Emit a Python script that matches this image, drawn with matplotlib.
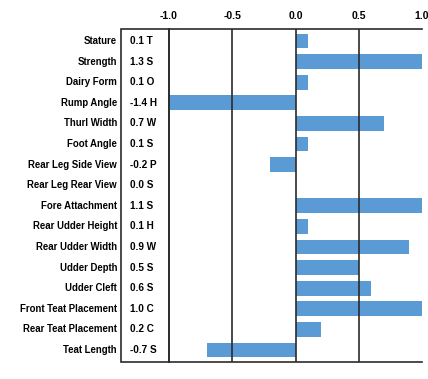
import matplotlib
matplotlib.use("Agg")
import matplotlib.pyplot as plt
import matplotlib.transforms as mtransforms
from matplotlib.patches import Rectangle

# ---------------------------------------------------------------------------
# Data
# ---------------------------------------------------------------------------
traits = [
    "Stature", "Strength", "Dairy Form", "Rump Angle", "Thurl Width",
    "Foot Angle", "Rear Leg Side View", "Rear Leg Rear View", "Fore Attachment",
    "Rear Udder Height", "Rear Udder Width", "Udder Depth", "Udder Cleft",
    "Front Teat Placement", "Rear Teat Placement", "Teat Length",
]
values = [0.1, 1.3, 0.1, -1.4, 0.7, 0.1, -0.2, 0.0, 1.1, 0.1, 0.9, 0.5, 0.6, 1.0, 0.2, -0.7]
codes = ["T", "S", "O", "H", "W", "S", "P", "S", "S", "H", "W", "S", "S", "C", "C", "S"]
x_ticks = [-1.0, -0.5, 0.0, 0.5, 1.0]

W, H = 428, 379
BAR = "#5b9bd5"
LINE = "#2b2b2b"
FONT = ["Liberation Sans Narrow", "Liberation Sans", "DejaVu Sans"]

fig = plt.figure(figsize=(W / 100, H / 100), dpi=100)
fig.patch.set_facecolor("white")

# plot area in pixel coords -> figure fractions
left, right, top, bottom = 169, 422, 29, 362
ax = fig.add_axes([left / W, 1 - bottom / H, (right - left) / W, (bottom - top) / H])

pos = list(range(len(traits)))
ax.barh(pos, values, height=0.72, color=BAR, zorder=2)
ax.set_xlim(-1.0, 1.0)
ax.set_ylim(len(traits) - 0.42, -0.58)

for x in x_ticks[1:-1]:
    ax.axvline(x, color=LINE, lw=1.2, zorder=3)

ax.xaxis.tick_top()
ax.set_xticks(x_ticks)
ax.set_xticklabels([f"{t:.1f}" for t in x_ticks], fontsize=7.5,
                   fontweight="bold", family=FONT)
ax.tick_params(axis="x", length=0, pad=6)
ax.set_yticks([])

for side in ("left", "top", "bottom"):
    ax.spines[side].set_color(LINE)
    ax.spines[side].set_linewidth(1.2)
ax.spines["right"].set_visible(False)

# value column box left of the plot
box_left = 121
fig.patches.append(Rectangle((box_left / W, 1 - bottom / H), (left - box_left) / W,
                             (bottom - top) / H, transform=fig.transFigure,
                             fill=False, edgecolor=LINE, lw=1.2))

trans = mtransforms.blended_transform_factory(fig.transFigure, ax.transData)
for i, (name, v, c) in enumerate(zip(traits, values, codes)):
    ax.text(117 / W, i, name, transform=trans, ha="right", va="center",
            fontsize=6.9, fontweight="bold", family=FONT)
    ax.text(130 / W, i, f"{v:.1f} {c}", transform=trans, ha="left", va="center",
            fontsize=7.2, fontweight="bold", family=FONT)

fig.savefig("out.png", dpi=100)
